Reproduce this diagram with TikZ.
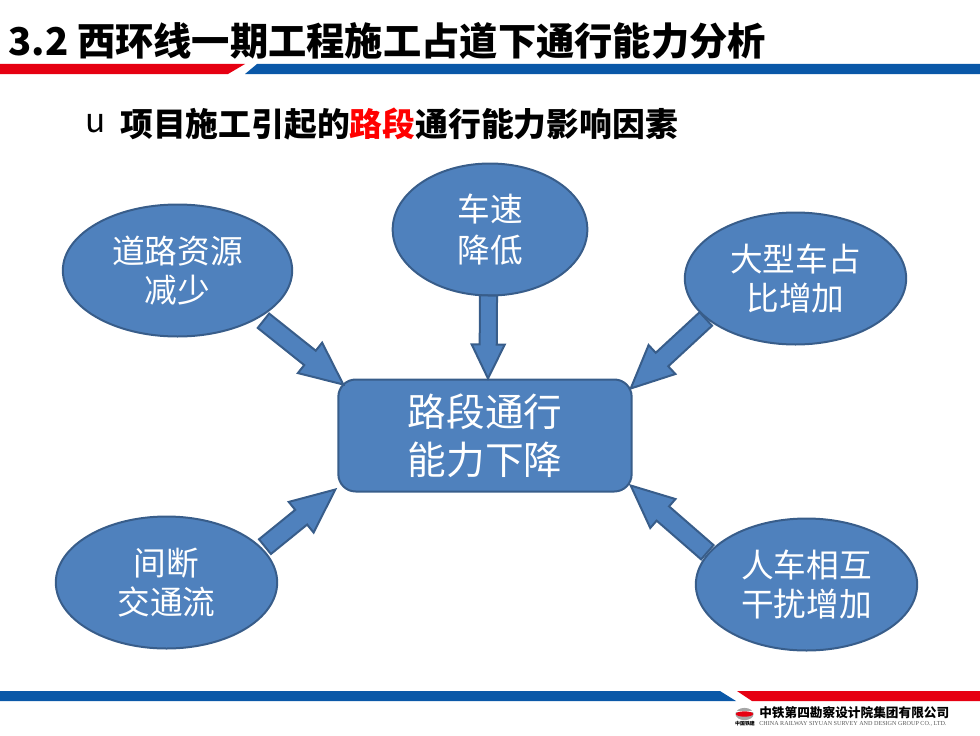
\documentclass[tikz,border=0pt]{standalone}
\usepackage{fontspec}
\setmainfont{Noto Sans CJK SC}
\newfontfamily\latinserif{Liberation Serif}
\usetikzlibrary{shapes.geometric,calc}
\definecolor{nodefill}{HTML}{4F81BD}
\definecolor{nodeline}{HTML}{385D8A}
\definecolor{barred}{HTML}{E60012}
\definecolor{barblue}{HTML}{0A58A8}

\begin{document}
\begin{tikzpicture}[x=.75pt,y=-.75pt,
   bubble/.style={ellipse,draw=nodeline,fill=nodefill,line width=1.5pt,inner sep=0pt,outer sep=0pt,
      minimum width=#1,minimum height=99pt,text=white,align=center,
      font=\fontsize{24.5}{29.5}\selectfont},
   fatarrow/.style n args={3}{draw=nodeline,fill=nodefill,line width=1.5pt,line join=miter,
      to path={($(\tikztostart)!#1!90:(\tikztotarget)$)
         -- ($(\tikztotarget)!#3!(\tikztostart)!#1!90:(\tikztotarget)$)
         -- ($(\tikztotarget)!#3!(\tikztostart)!#2!90:(\tikztotarget)$)
         -- (\tikztotarget)
         -- ($(\tikztotarget)!#3!(\tikztostart)!#2!-90:(\tikztotarget)$)
         -- ($(\tikztotarget)!#3!(\tikztostart)!#1!-90:(\tikztotarget)$)
         -- ($(\tikztostart)!#1!-90:(\tikztotarget)$) -- cycle}}]
   \useasboundingbox (0,0) rectangle (980,735);

   % bars
   \fill[barred] (0,64) -- (245,64) -- (228,74) -- (0,74) -- cycle;
   \fill[barblue] (257,64) -- (980,64) -- (980,74) -- (245,74) -- cycle;
   \fill[barblue] (0,691) -- (720,691) -- (736,701) -- (0,701) -- cycle;
   \fill[barred] (737,691) -- (980,691) -- (980,701) -- (752,701) -- cycle;

   \node[anchor=west,inner sep=0pt] (title) at (8,41) {\fontsize{28.7}{32}\selectfont\bfseries 3.2 西环线一期工程施工占道下通行能力分析};
   \node[anchor=west,inner sep=0pt] (bullet) at (85,124) {\fontsize{25}{28}\selectfont u};
   \node[anchor=west,inner sep=0pt] (subtitle) at (120,124) {\fontsize{24.6}{28}\selectfont\bfseries 项目施工引起的\textcolor{red}{路段}通行能力影响因素};

   \node[bubble=172pt] (road) at (177.5,270.5) {道路资源\\减少};
   \node[bubble=146pt] (speed) at (490,229.5) {车速\\[1pt]降低};
   \node[bubble=166pt] (truck) at (795.5,278.5) {大型车占\\比增加};
   \node[bubble=166pt] (flow) at (166.5,582.5) {间断\\交通流};
   \node[bubble=166pt] (mix) at (806.5,584.5) {人车相互\\干扰增加};
   \node[draw=nodeline,fill=nodefill,line width=1.5pt,rounded corners=13pt,outer sep=0pt,inner sep=0pt,
      minimum width=220pt,minimum height=84pt,text=white,align=center,
      font=\fontsize{29}{36}\selectfont] (drop) at (485,435.5) {路段通行\\能力下降};

   \path ([shift={(5,3.5)}]road.-30) edge[fatarrow={6.9pt}{14.6pt}{32pt}] ([shift={(5,5)}]drop.north west);
   \path ([shift={(-1.5,0)}]speed.south) edge[fatarrow={6.4pt}{12.4pt}{25.5pt}] ([shift={(3,-1)}]drop.north);
   \path ([shift={(-1,1)}]truck.204) edge[fatarrow={6.9pt}{14.8pt}{32pt}] ([shift={(-1,9)}]drop.north east);
   \path ([shift={(4,-1.5)}]flow.20) edge[fatarrow={7.1pt}{14.8pt}{33pt}] ([shift={(-3,-2)}]drop.south west);
   \path ([shift={(-2,-.7)}]mix.162.5) edge[fatarrow={7.1pt}{14.4pt}{32pt}] ([shift={(-1,-6)}]drop.south east);

   % logo
   \fill[gray!70] (744.5,714) ellipse (6.8pt and 4.6pt);
   \fill[white] (735,711) rectangle (754,712);
   \fill[barred] (744.5,714) ellipse (6.5pt and 2pt);
   \node[anchor=west,inner sep=0pt] (company) at (759,713) {\fontsize{9.5}{11}\selectfont\bfseries 中铁第四勘察设计院集团有限公司};
   \node[anchor=west,inner sep=0pt,text=black!65] (english) at (759,724) {\latinserif\fontsize{4.6}{5}\selectfont CHINA RAILWAY SIYUAN SURVEY AND DESIGN GROUP CO., LTD.};
   \node[anchor=center,inner sep=0pt] (brand) at (745,724) {\fontsize{3.7}{4}\selectfont\bfseries 中国铁建};
\end{tikzpicture}
\end{document}
